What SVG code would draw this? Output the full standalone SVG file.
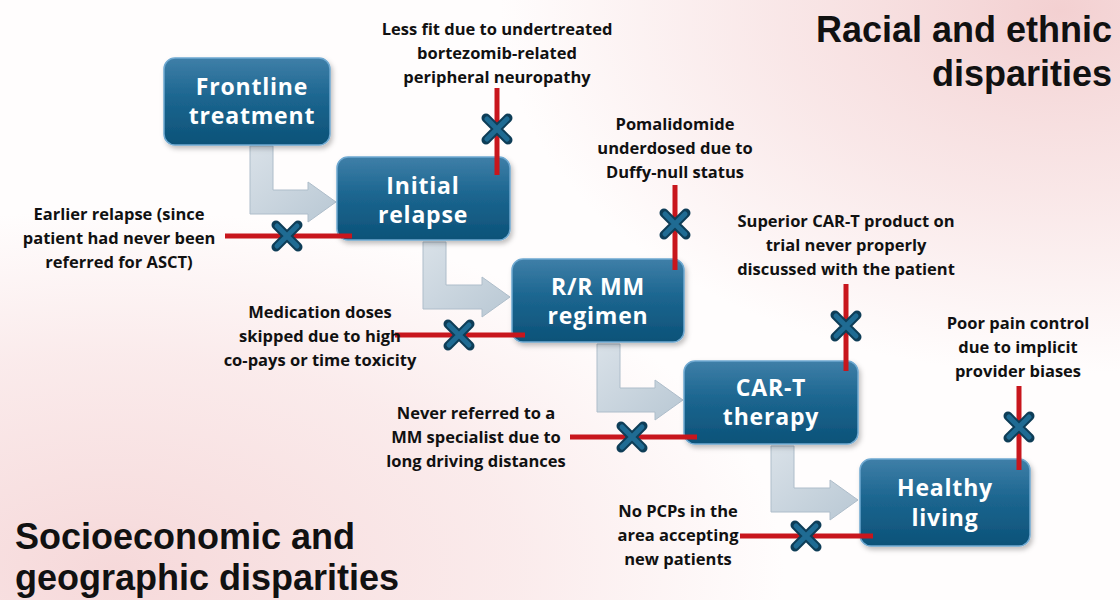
<svg xmlns="http://www.w3.org/2000/svg" width="1120" height="600" viewBox="0 0 1120 600">
<defs>
<radialGradient id="bgTR" gradientUnits="userSpaceOnUse" cx="1060" cy="10" r="560" gradientTransform="translate(1060,10) scale(1,0.65) translate(-1060,-10)">
<stop offset="0" stop-color="#f3d0d1" stop-opacity="1"/>
<stop offset="0.5" stop-color="#f5d8d9" stop-opacity="0.6"/>
<stop offset="1" stop-color="#f5d8d9" stop-opacity="0"/>
</radialGradient>
<radialGradient id="bgBL" cx="0.1" cy="0.95" r="0.6">
<stop offset="0" stop-color="#f6d9da" stop-opacity="1"/>
<stop offset="0.6" stop-color="#f6d9da" stop-opacity="0.5"/>
<stop offset="1" stop-color="#f6d9da" stop-opacity="0"/>
</radialGradient>
<linearGradient id="boxG" x1="0" y1="0" x2="0" y2="1">
<stop offset="0" stop-color="#3f7fa8"/>
<stop offset="0.45" stop-color="#1c6690"/>
<stop offset="1" stop-color="#0c5278"/>
</linearGradient>
<linearGradient id="arrG" x1="0" y1="0" x2="1" y2="1">
<stop offset="0" stop-color="#d9e1e8"/>
<stop offset="1" stop-color="#b9c8d4"/>
</linearGradient>
<filter id="sh" x="-10%" y="-10%" width="125%" height="130%">
<feDropShadow dx="2" dy="3" stdDeviation="2.5" flood-color="#000" flood-opacity="0.25"/>
</filter>
<g id="xm">
<path d="M-11,-11 L11,11 M11,-11 L-11,11" stroke="#0e3d57" stroke-width="9" stroke-linecap="round"/>
<path d="M-10,-10 L10,10 M10,-10 L-10,10" stroke="#1f6b93" stroke-width="5" stroke-linecap="round"/>
</g>
</defs>
<style>
.box{fill:url(#boxG);stroke:#6fa9d1;stroke-width:1.5;filter:url(#sh)}
.bt{font-family:"Open Sans","Liberation Sans",sans-serif;font-weight:700;font-size:23px;fill:#ffffff;text-anchor:middle;letter-spacing:0.8px}
.lb{font-family:"Open Sans","Liberation Sans",sans-serif;font-weight:700;font-size:16.5px;fill:#111111;text-anchor:middle}
.ti{font-family:"Liberation Sans",Arial,sans-serif;font-weight:700;font-size:36px;fill:#111111}
.arr{fill:url(#arrG);stroke:#aebdca;stroke-width:1}
.red{stroke:#c8161d;stroke-width:5;fill:none}
</style>
<rect width="1120" height="600" fill="#fffdfd"/>
<rect width="1120" height="600" fill="url(#bgTR)"/>
<rect width="1120" height="600" fill="url(#bgBL)"/>

<text class="ti" x="1112" y="42" text-anchor="end">Racial and ethnic</text>
<text class="ti" x="1112" y="86" text-anchor="end">disparities</text>
<text class="ti" x="15" y="549">Socioeconomic and</text>
<text class="ti" x="15" y="590">geographic disparities</text>

<g id="flow-arrows">
<path class="arr" d="M250,146 H273 V190 H308 V182 L336,202 L308,222 V214 H250 Z"/>
<path class="arr" d="M423,242 H446 V285 H482 V277 L510,297 L482,317 V309 H423 Z"/>
<path class="arr" d="M597,344 H620 V388 H655 V380 L683,400 L655,420 V412 H597 Z"/>
<path class="arr" d="M771,446 H794 V488 H830 V480 L858,500 L830,520 V512 H771 Z"/>
</g>

<g id="n1"><rect class="box" x="164" y="58" width="166" height="87" rx="11"/>
<text class="bt" x="252" y="95">Frontline</text><text class="bt" x="252" y="124">treatment</text></g>
<g id="n2"><rect class="box" x="337" y="157" width="173" height="83" rx="11"/>
<text class="bt" x="423" y="194">Initial</text><text class="bt" x="423" y="223">relapse</text></g>
<g id="n3"><rect class="box" x="512" y="259" width="172" height="83" rx="11"/>
<text class="bt" x="598" y="295">R/R MM</text><text class="bt" x="598" y="324">regimen</text></g>
<g id="n4"><rect class="box" x="684" y="361" width="174" height="83" rx="11"/>
<text class="bt" x="771" y="396">CAR-T</text><text class="bt" x="771" y="425">therapy</text></g>
<g id="n5"><rect class="box" x="860" y="459" width="170" height="87" rx="11"/>
<text class="bt" x="945" y="496">Healthy</text><text class="bt" x="945" y="526">living</text></g>

<g id="barriers">
<line class="red" x1="225" y1="236" x2="352" y2="236"/>
<use href="#xm" x="287" y="236"/>
<line class="red" x1="497" y1="88" x2="497" y2="175"/>
<use href="#xm" x="497" y="129"/>
<line class="red" x1="395" y1="335" x2="525" y2="335"/>
<use href="#xm" x="459" y="335"/>
<line class="red" x1="675" y1="185" x2="675" y2="270"/>
<use href="#xm" x="675" y="224"/>
<line class="red" x1="570" y1="437" x2="697" y2="437"/>
<use href="#xm" x="632" y="437"/>
<line class="red" x1="846" y1="284" x2="846" y2="371"/>
<use href="#xm" x="846" y="326"/>
<line class="red" x1="740" y1="536" x2="873" y2="536"/>
<use href="#xm" x="806" y="536"/>
<line class="red" x1="1019" y1="386" x2="1019" y2="470"/>
<use href="#xm" x="1019" y="427"/>
</g>

<g id="labels">
<text class="lb" x="497" y="35">Less fit due to undertreated</text>
<text class="lb" x="497" y="59">bortezomib-related</text>
<text class="lb" x="497" y="83">peripheral neuropathy</text>
<text class="lb" x="675" y="130">Pomalidomide</text>
<text class="lb" x="675" y="154">underdosed due to</text>
<text class="lb" x="675" y="178">Duffy-null status</text>
<text class="lb" x="846" y="227">Superior CAR-T product on</text>
<text class="lb" x="846" y="251">trial never properly</text>
<text class="lb" x="846" y="275">discussed with the patient</text>
<text class="lb" x="1018" y="329">Poor pain control</text>
<text class="lb" x="1018" y="353">due to implicit</text>
<text class="lb" x="1018" y="377">provider biases</text>
<text class="lb" x="119" y="220">Earlier relapse (since</text>
<text class="lb" x="119" y="244">patient had never been</text>
<text class="lb" x="119" y="268">referred for ASCT)</text>
<text class="lb" x="320" y="318">Medication doses</text>
<text class="lb" x="320" y="342">skipped due to high</text>
<text class="lb" x="320" y="366">co-pays or time toxicity</text>
<text class="lb" x="476" y="419">Never referred to a</text>
<text class="lb" x="476" y="443">MM specialist due to</text>
<text class="lb" x="476" y="467">long driving distances</text>
<text class="lb" x="678" y="517">No PCPs in the</text>
<text class="lb" x="678" y="541">area accepting</text>
<text class="lb" x="678" y="565">new patients</text>
</g>
</svg>
